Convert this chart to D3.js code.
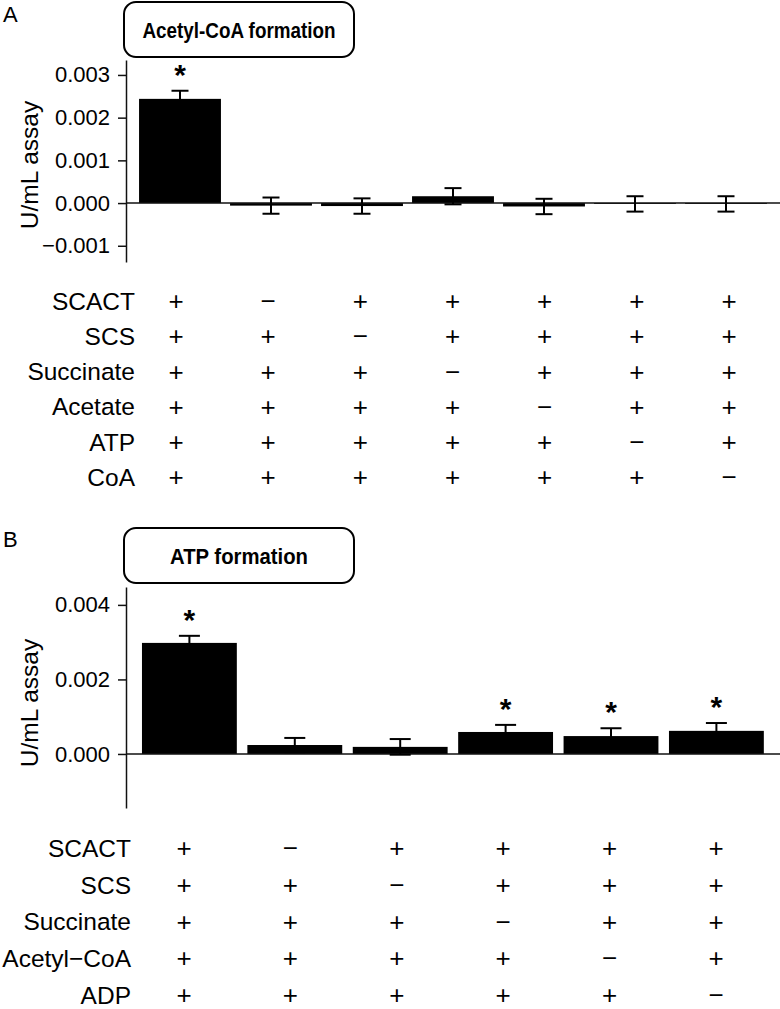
<!DOCTYPE html>
<html>
<head>
<meta charset="utf-8">
<script src="https://cdn.jsdelivr.net/npm/d3@7"></script>
<style>
  body { margin: 0; background: #fff; }
  text { font-family: "Liberation Sans", Arial, sans-serif; fill: #000; }
</style>
</head>
<body>
<script>
const FWIDTH = 780,
    FHEIGHT = 1009;

// panel A: acetyl-CoA formation
const rowsA = ["SCACT", "SCS", "Succinate", "Acetate", "ATP", "CoA"];
const signsA = [
	["+", "−", "+", "+", "+", "+", "+"],
	["+", "+", "−", "+", "+", "+", "+"],
	["+", "+", "+", "−", "+", "+", "+"],
	["+", "+", "+", "+", "−", "+", "+"],
	["+", "+", "+", "+", "+", "−", "+"],
	["+", "+", "+", "+", "+", "+", "−"]
];
const valuesA = [0.00244, -0.00006, -0.00007, 0.00016, -0.00008, -0.00002, -0.00002];
const errorsA = [0.00019, 0.00019, 0.00018, 0.00019, 0.00018, 0.00018, 0.00018];
const starsA = [true, false, false, false, false, false, false];
const ticksA = [-0.001, 0.000, 0.001, 0.002, 0.003];

// panel B: ATP formation
const rowsB = ["SCACT", "SCS", "Succinate", "Acetyl−CoA", "ADP"];
const signsB = [
	["+", "−", "+", "+", "+", "+"],
	["+", "+", "−", "+", "+", "+"],
	["+", "+", "+", "−", "+", "+"],
	["+", "+", "+", "+", "−", "+"],
	["+", "+", "+", "+", "+", "−"]
];
const valuesB = [0.00298, 0.00024, 0.00019, 0.00059, 0.00048, 0.00062];
const errorsB = [0.00019, 0.00019, 0.00021, 0.00019, 0.00021, 0.00021];
const starsB = [true, false, false, true, true, true];
const ticksB = [0.000, 0.002, 0.004];

const svg = d3.select("body")
	.append("svg")
	.attr("width", FWIDTH)
	.attr("height", FHEIGHT);

function drawPanel(p) {
	const g = svg.append("g");
	const axisX = 126;

	const y = d3.scaleLinear().domain(p.yDomain).range(p.yRange);
	const x = d3.scaleBand()
		.domain(d3.range(p.values.length))
		.range(p.xRange)
		.paddingInner(0.1)
		.paddingOuter(0.05);

	// panel letter
	g.append("text")
		.text(p.letter)
		.attr("x", 3)
		.attr("y", p.letterY)
		.attr("font-size", "22px");

	// title box
	g.append("rect")
		.attr("x", 124)
		.attr("y", p.boxY)
		.attr("width", 230)
		.attr("height", 55)
		.attr("rx", 12)
		.attr("fill", "#fff")
		.attr("stroke", "#000")
		.attr("stroke-width", 2);
	g.append("text")
		.text(p.title)
		.attr("x", 239)
		.attr("y", p.boxY + 28)
		.attr("dy", "0.36em")
		.attr("text-anchor", "middle")
		.attr("font-size", "22px")
		.attr("font-weight", "bold")
		.attr("textLength", p.titleLen)
		.attr("lengthAdjust", "spacingAndGlyphs");

	// bars
	g.selectAll(".bar")
		.data(p.values)
		.join("rect")
		.attr("x", (d, i) => x(i))
		.attr("width", x.bandwidth())
		.attr("y", (d) => y(Math.max(0, d)))
		.attr("height", (d) => Math.abs(y(d) - y(0)))
		.attr("fill", "#000");

	// zero line
	g.append("line")
		.attr("x1", axisX)
		.attr("x2", FWIDTH)
		.attr("y1", y(0))
		.attr("y2", y(0))
		.attr("stroke", "#111")
		.attr("stroke-width", 1.5);

	// error bars
	p.values.forEach((v, i) => {
		const cx = x(i) + x.bandwidth() / 2;
		const e = p.errors[i];
		const hi = y(v + e), lo = y(v - e);
		g.append("line")
			.attr("x1", cx).attr("x2", cx)
			.attr("y1", hi).attr("y2", lo)
			.attr("stroke", "#000").attr("stroke-width", 2);
		[hi, lo].forEach((yy) => {
			g.append("line")
				.attr("x1", cx - p.capW / 2).attr("x2", cx + p.capW / 2)
				.attr("y1", yy).attr("y2", yy)
				.attr("stroke", "#000").attr("stroke-width", 2);
		});
		if (p.stars[i]) {
			g.append("text")
				.text("*")
				.attr("x", cx)
				.attr("y", hi - 6)
				.attr("text-anchor", "middle")
				.attr("font-size", "30px")
				.attr("font-weight", "bold");
		}
	});

	// y axis
	const axis = g.append("g")
		.attr("transform", `translate(${axisX},0)`)
		.call(d3.axisLeft(y)
			.tickValues(p.ticks)
			.tickFormat(d3.format(".3f"))
			.tickSize(8)
			.tickPadding(8)
			.tickSizeOuter(0));
	axis.select(".domain").attr("stroke", "#111").attr("stroke-width", 1.5);
	axis.selectAll(".tick line").attr("stroke", "#111").attr("stroke-width", 1.5);
	axis.selectAll(".tick text")
		.attr("font-family", "'Liberation Sans', Arial, sans-serif")
		.attr("font-size", "22px")
		.attr("fill", "#000");

	// y label
	g.append("text")
		.text("U/mL assay")
		.attr("transform", `translate(38,${p.labelY}) rotate(-90)`)
		.attr("text-anchor", "middle")
		.attr("font-size", "24.5px");

	// condition table
	const rowY = d3.scalePoint().domain(p.rows).range(p.rowRange);
	const colX = d3.scalePoint().domain(d3.range(p.values.length)).range(p.colRange);
	g.selectAll(".rowlabel")
		.data(p.rows)
		.join("text")
		.text((d) => d)
		.attr("x", p.labelRight)
		.attr("y", (d) => rowY(d))
		.attr("dy", "0.36em")
		.attr("text-anchor", "end")
		.attr("font-size", "24.5px");
	p.signs.forEach((row, r) => {
		row.forEach((s, c) => {
			g.append("text")
				.text(s)
				.attr("x", colX(c))
				.attr("y", rowY(p.rows[r]))
				.attr("dy", "0.35em")
				.attr("text-anchor", "middle")
				.attr("font-size", "26px");
		});
	});
}

drawPanel({
	letter: "A", letterY: 22, boxY: 2, title: "Acetyl-CoA formation", titleLen: 193,
	values: valuesA, errors: errorsA, stars: starsA, ticks: ticksA,
	yDomain: [-0.00138, 0.00335], yRange: [262, 60], xRange: [134.5, 771.5],
	capW: 17, labelY: 165,
	rows: rowsA, signs: signsA, rowRange: [301, 477], colRange: [176, 729], labelRight: 135
});

drawPanel({
	letter: "B", letterY: 547, boxY: 528, title: "ATP formation", titleLen: 138,
	values: valuesB, errors: errorsB, stars: starsB, ticks: ticksB,
	yDomain: [-0.00145, 0.00448], yRange: [808, 587], xRange: [136.7, 769.1],
	capW: 21, labelY: 703,
	rows: rowsB, signs: signsB, rowRange: [848, 995], colRange: [184, 716], labelRight: 131
});
</script>
</body>
</html>
